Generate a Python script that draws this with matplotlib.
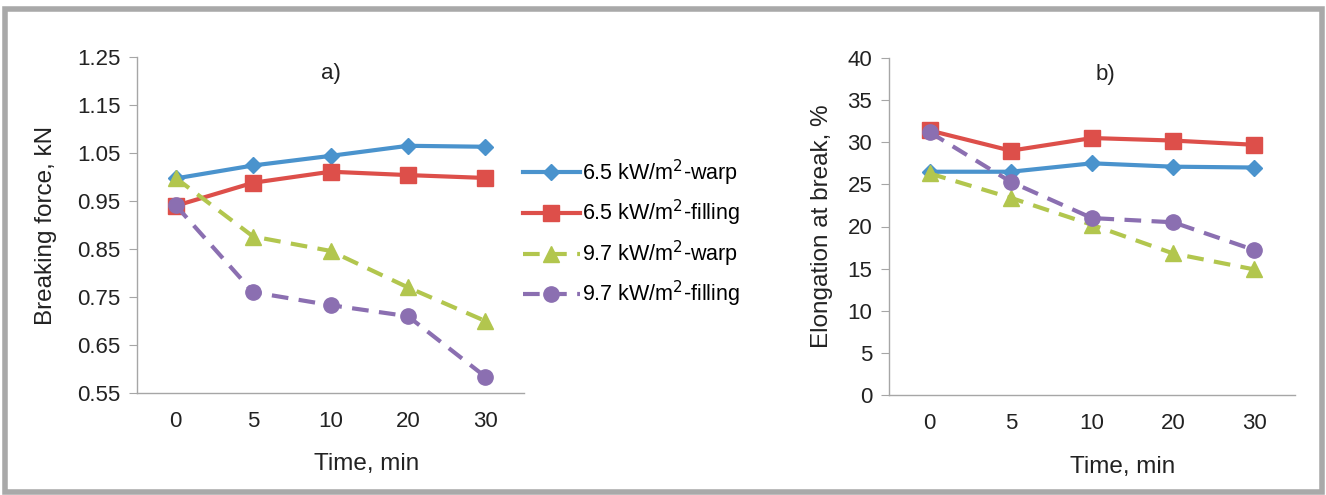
import matplotlib
matplotlib.use("Agg")
import matplotlib.pyplot as plt
from matplotlib.patches import Rectangle

plt.rcParams['font.family'] = ['Liberation Sans', 'DejaVu Sans']

times = ['0', '5', '10', '20', '30']
labels = ['6.5 kW/m$^{2}$-warp', '6.5 kW/m$^{2}$-filling',
          '9.7 kW/m$^{2}$-warp', '9.7 kW/m$^{2}$-filling']

force_65_warp = [0.997, 1.024, 1.044, 1.065, 1.063]
force_65_fill = [0.940, 0.988, 1.011, 1.004, 0.998]
force_97_warp = [0.998, 0.876, 0.846, 0.770, 0.700]
force_97_fill = [0.941, 0.760, 0.733, 0.710, 0.584]

elong_65_warp = [26.5, 26.5, 27.5, 27.1, 27.0]
elong_65_fill = [31.4, 29.0, 30.5, 30.2, 29.7]
elong_97_warp = [26.3, 23.4, 20.2, 16.8, 14.9]
elong_97_fill = [31.2, 25.3, 21.0, 20.5, 17.2]

colors = ['#4A93CD', '#DD4F4A', '#B2C64E', '#8B6FB1']
markers = ['D', 's', '^', 'o']
msizes = [8.5, 11, 11, 11]
styles = ['-', '-', '--', '--']

W, H = 1326, 495
fig = plt.figure(figsize=(W / 100, H / 100), dpi=100)
fig.patches.append(Rectangle((5 / W, 3 / H), (1322 - 5) / W, (486 - 3) / H,
                             transform=fig.transFigure, fill=False,
                             edgecolor='#A9A9A9', linewidth=4))

def ax_rect(l, t, r, b):
    return [l / W, 1 - b / H, (r - l) / W, (b - t) / H]

ax1 = fig.add_axes(ax_rect(137, 57, 524, 393))
ax2 = fig.add_axes(ax_rect(889, 58, 1295, 395))

x = list(range(len(times)))

def style(ax, ylim, yticks, yfmt, ylabel, title, xlab_x, title_x, ylab_x):
    ax.set_xlim(-0.5, len(times) - 0.5)
    ax.set_ylim(*ylim)
    ax.set_yticks(yticks)
    ax.set_yticklabels([yfmt.format(v) for v in yticks])
    ax.set_xticks(x)
    ax.set_xticklabels(times)
    for s in ['top', 'right']:
        ax.spines[s].set_visible(False)
    for s in ['left', 'bottom']:
        ax.spines[s].set_color('#A6A6A6')
        ax.spines[s].set_linewidth(1.0)
    ax.tick_params(axis='y', length=6, color='#A6A6A6', labelsize=16, pad=6,
                   labelcolor='#222222')
    ax.tick_params(axis='x', length=0, labelsize=16, pad=13, labelcolor='#222222')
    ax.set_xlabel('Time, min', fontsize=17.5, color='#222222')
    ax.xaxis.set_label_coords(xlab_x, -0.18)
    ax.set_ylabel(ylabel, fontsize=17.5, color='#222222')
    ax.yaxis.set_label_coords(ylab_x, 0.5)
    ax.set_title(title, fontsize=16, pad=-16, y=1.0, x=title_x, color='#222222')

series1 = [force_65_warp, force_65_fill, force_97_warp, force_97_fill]
series2 = [elong_65_warp, elong_65_fill, elong_97_warp, elong_97_fill]

handles = []
for i in range(4):
    kw = dict(color=colors[i], marker=markers[i], markersize=msizes[i],
              linestyle=styles[i], linewidth=3)
    if styles[i] == '--':
        kw['dashes'] = (4, 2.5)
    h, = ax1.plot(x, series1[i], label=labels[i], **kw)
    handles.append(h)
    ax2.plot(x, series2[i], **kw)

style(ax1, (0.55, 1.25), [0.55, 0.65, 0.75, 0.85, 0.95, 1.05, 1.15, 1.25],
      '{:.2f}', 'Breaking force, kN', 'a)', 0.594, 0.5, -0.206)
style(ax2, (0, 40), [0, 5, 10, 15, 20, 25, 30, 35, 40],
      '{:d}', 'Elongation at break, %', 'b)', 0.576, 0.532, -0.138)

fig.legend(handles=handles, loc='upper left',
           bbox_to_anchor=(514 / W, 1 - 149 / H), frameon=False,
           fontsize=15.5, handlelength=2.65, handletextpad=0.1,
           labelspacing=0.48, borderaxespad=0)

fig.savefig('out.png', dpi=100)
